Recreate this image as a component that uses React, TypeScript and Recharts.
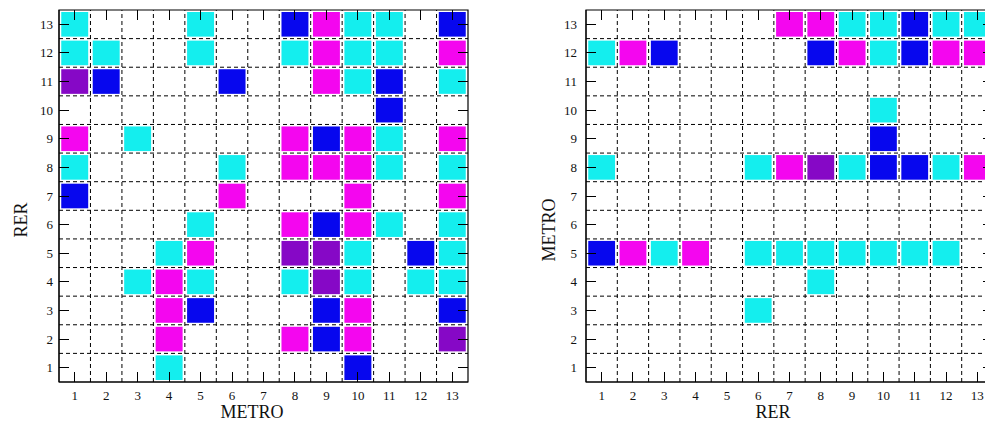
import { ScatterChart, Scatter, XAxis, YAxis, ReferenceLine, ReferenceArea } from 'recharts';

const ticks = [1, 2, 3, 4, 5, 6, 7, 8, 9, 10, 11, 12, 13];
const gridLines = [1.5, 2.5, 3.5, 4.5, 5.5, 6.5, 7.5, 8.5, 9.5, 10.5, 11.5, 12.5];

// one string per row, top row is 13; c = cyan, m = magenta, b = blue, p = purple
const leftRows = [
  'c...c..bmcc.b',
  'cc..c..cmcc.m',
  'pb...b..mcb.c',
  '..........b..',
  'm.c....mbmc.m',
  'c....c.mmmc.c',
  'b....m...m..m',
  '....c..mbmc.c',
  '...cm..ppc.bc',
  '..cmc..cpc.cc',
  '...mb...bm..b',
  '...m...mbm..p',
  '...c.....b...',
];

const rightRows = [
  '......mmccbcc',
  'cmb....bmcbmm',
  '.............',
  '.........c...',
  '.........b...',
  'c....cmpcbbcm',
  '.............',
  '.............',
  'bmcm.ccccccc.',
  '.......c.....',
  '.....c.......',
  '.............',
  '.............',
];

const colorCodes = ['c', 'm', 'b', 'p'];
const palette: Record<string, string> = {
  c: '#14eeee',
  m: '#f406ef',
  b: '#0707ee',
  p: '#8608c6',
};

function toPoints(rows: string[], code: string) {
  const pts: { x: number; y: number }[] = [];
  rows.forEach((row, i) => {
    const y = rows.length - i;
    row.split('').forEach((ch, j) => {
      if (ch === code) pts.push({ x: j + 1, y });
    });
  });
  return pts;
}

const font = 'Liberation Serif, Times New Roman, serif';
const TICK = 10;
const CHART_W = 490;
const CHART_H = 423;
const crisp = (v: number) => Math.round(v - 0.5) + 0.5;

type PanelProps = {
  rows: string[];
  left: number;
  margin: { top: number; right: number; bottom: number; left: number };
  plotW: number;
  plotH: number;
  xTitle: string;
  yTitle: string;
  xTitleX: number;
  yTitleX: number;
  yTitleY: number;
  yTickMargin: number;
};

function Panel(p: PanelProps) {
  const cw = p.plotW / 13 - 4.5;
  const ch = p.plotH / 13 - 4;
  const plotTop = p.margin.top;
  const plotRight = CHART_W - p.margin.right;
  const shape = (fill: string) => (props: any) => (
    <rect x={props.cx - cw / 2} y={props.cy - ch / 2} width={cw} height={ch} fill={fill} />
  );

  // inward tick marks on bottom + top
  const xTick = (props: any) => {
    const axisY = props.y - 9;
    const x = crisp(props.x);
    return (
      <g>
        <line x1={x} x2={x} y1={axisY} y2={axisY - TICK} stroke="#000" />
        <line x1={x} x2={x} y1={plotTop} y2={plotTop + TICK} stroke="#000" />
        <text x={props.x} y={props.y + 9} textAnchor="middle" fontSize={13} fontFamily={font} fill="#111">
          {props.payload.value}
        </text>
      </g>
    );
  };

  // inward tick marks on left + right
  const yTick = (props: any) => {
    const axisX = props.x + p.yTickMargin;
    const y = crisp(props.y);
    return (
      <g>
        <line x1={axisX} x2={axisX + TICK} y1={y} y2={y} stroke="#000" />
        <line x1={plotRight} x2={plotRight - TICK} y1={y} y2={y} stroke="#000" />
        <text x={props.x} y={props.y + 4.5} textAnchor="end" fontSize={13} fontFamily={font} fill="#111">
          {props.payload.value}
        </text>
      </g>
    );
  };

  return (
    <div style={{ position: 'absolute', left: p.left, top: 0 }}>
      <ScatterChart width={CHART_W} height={CHART_H} margin={p.margin}>
        {gridLines.map((v) => (
          <ReferenceLine key={'x' + v} x={v} stroke="#000" strokeDasharray="4 3" />
        ))}
        {gridLines.map((v) => (
          <ReferenceLine key={'y' + v} y={v} stroke="#000" strokeDasharray="4 3" />
        ))}
        {colorCodes.map((code) => (
          <Scatter
            key={code}
            data={toPoints(p.rows, code)}
            shape={shape(palette[code])}
            isAnimationActive={false}
          />
        ))}
        <ReferenceArea x1={0.5} x2={13.5} y1={0.5} y2={13.5} fill="none" fillOpacity={0} stroke="#000" strokeWidth={1.2} />
        <XAxis
          type="number"
          dataKey="x"
          domain={[0.5, 13.5]}
          ticks={ticks}
          interval={0}
          height={40}
          tickSize={0}
          tickMargin={9}
          tickLine={false}
          tick={xTick}
          axisLine={{ stroke: '#000' }}
          label={{
            value: p.xTitle,
            content: () => (
              <text x={p.xTitleX} y={418} textAnchor="middle" fontSize={18} fontFamily={font} fill="#111">
                {p.xTitle}
              </text>
            ),
          }}
        />
        <YAxis
          type="number"
          dataKey="y"
          domain={[0.5, 13.5]}
          ticks={ticks}
          interval={0}
          width={40}
          tickSize={0}
          tickMargin={p.yTickMargin}
          tickLine={false}
          tick={yTick}
          axisLine={{ stroke: '#000' }}
          label={{
            value: p.yTitle,
            content: () => (
              <text
                x={p.yTitleX}
                y={p.yTitleY}
                transform={`rotate(-90 ${p.yTitleX} ${p.yTitleY})`}
                textAnchor="middle"
                fontSize={18}
                fontFamily={font}
                fill="#111"
              >
                {p.yTitle}
              </text>
            ),
          }}
        />
      </ScatterChart>
    </div>
  );
}

export default function App() {
  return (
    <div
      style={{
        position: 'fixed',
        left: 0,
        top: 0,
        width: 985,
        height: 423,
        overflow: 'hidden',
        background: '#fff',
      }}
    >
      <Panel
        rows={leftRows}
        left={0}
        margin={{ top: 10, right: 22, bottom: 1, left: 19 }}
        plotW={409}
        plotH={372}
        xTitle="METRO"
        yTitle="RER"
        xTitleX={252}
        yTitleX={27}
        yTitleY={220}
        yTickMargin={6}
      />
      <Panel
        rows={rightRows}
        left={520}
        margin={{ top: 10, right: 17, bottom: 1, left: 26 }}
        plotW={407}
        plotH={372}
        xTitle="RER"
        yTitle="METRO"
        xTitleX={253}
        yTitleX={35}
        yTitleY={230}
        yTickMargin={9}
      />
    </div>
  );
}
